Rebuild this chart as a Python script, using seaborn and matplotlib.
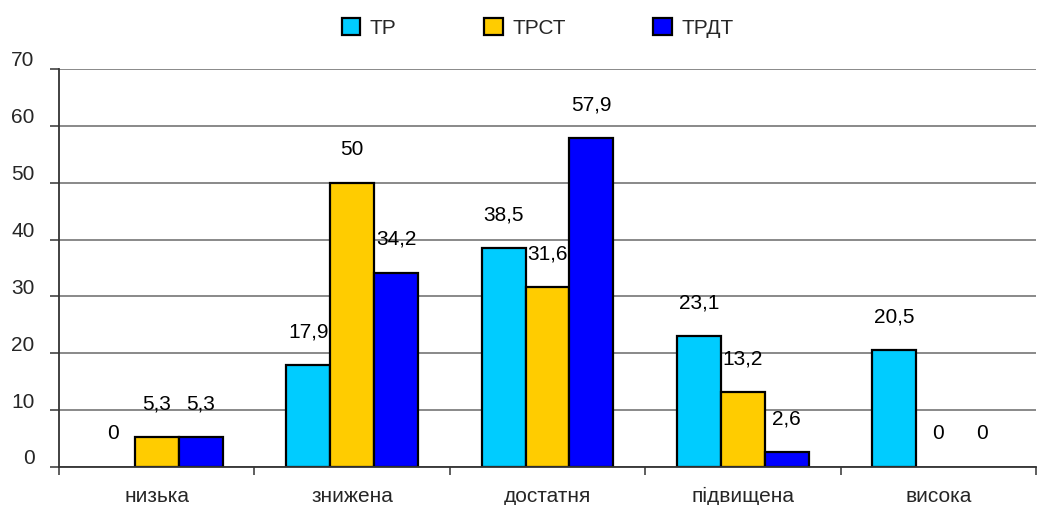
import matplotlib
matplotlib.use("Agg")
import matplotlib.pyplot as plt
import matplotlib.transforms as mtransforms
from matplotlib.patches import Patch
from matplotlib.ticker import FixedLocator
import seaborn as sns
import pandas as pd

categories = ["низька", "знижена", "достатня", "підвищена", "висока"]
series_names = ["ТР", "ТРСТ", "ТРДТ"]
tr_values = [0, 17.9, 38.5, 23.1, 20.5]
trst_values = [5.3, 50, 31.6, 13.2, 0]
trdt_values = [5.3, 34.2, 57.9, 2.6, 0]
colors = ["#00CCFF", "#FFCC00", "#0000FF"]
y_ticks = [0, 10, 20, 30, 40, 50, 60, 70]

rows = []
for name, vals in zip(series_names, [tr_values, trst_values, trdt_values]):
    for cat, v in zip(categories, vals):
        rows.append({"category": cat, "series": name, "value": v})
df = pd.DataFrame(rows)

sns.set_theme(style="white")
plt.rcParams["font.family"] = ["Liberation Sans", "DejaVu Sans"]

FS = 15

fig = plt.figure(figsize=(10.38, 5.05), dpi=100)
ax = fig.add_axes([59 / 1038, 1 - 467 / 505, (1036 - 59) / 1038, (467 - 69) / 505])

palette = dict(zip(series_names, colors))
sns.barplot(data=df, x="category", y="value", hue="series", order=categories,
            hue_order=series_names, palette=palette, width=0.675, gap=0,
            edgecolor="black", linewidth=1.6, saturation=1, legend=False,
            errorbar=None, ax=ax)

# zero-height bars are not drawn with an outline
for cont in ax.containers:
    for bar in cont:
        if bar.get_height() == 0:
            bar.set_linewidth(0)

ax.set_xlim(-0.5, len(categories) - 0.5)
ax.set_ylim(0, 70)
ax.set_yticks(y_ticks)
ax.set_xlabel("")
ax.set_ylabel("")

# gridlines
ax.yaxis.grid(True, color="#808080", linewidth=1.3)
ax.xaxis.grid(False)
ax.set_axisbelow(True)

for s in ["top", "right"]:
    ax.spines[s].set_visible(False)
for s in ["left", "bottom"]:
    ax.spines[s].set_visible(True)
    ax.spines[s].set_color("#333333")
    ax.spines[s].set_linewidth(1.3)

ax.tick_params(axis="y", which="major", direction="out", length=6.5, width=1.1,
               color="#333333", labelsize=FS, pad=11, left=True)
ax.tick_params(axis="x", which="major", length=0, labelsize=FS, pad=14.5)
ax.xaxis.set_minor_locator(FixedLocator([i - 0.5 for i in range(len(categories) + 1)]))
ax.tick_params(axis="x", which="minor", direction="out", length=6, width=1.1,
               color="#333333", bottom=True)

shift = mtransforms.ScaledTranslation(0, 10 / 100, fig.dpi_scale_trans)
for lab in ax.get_yticklabels():
    lab.set_transform(lab.get_transform() + shift)

# value labels
for cont, vals in zip(ax.containers, [tr_values, trst_values, trdt_values]):
    labels = [f"{v:g}".replace(".", ",") for v in vals]
    ax.bar_label(cont, labels=labels, padding=17, fontsize=FS, color="black")

handles = [Patch(facecolor=c, edgecolor="black", linewidth=1.6) for c in colors]
fig.legend(handles, series_names, loc="center", bbox_to_anchor=(0.518, 0.945),
           ncol=3, frameon=False, fontsize=FS, handlelength=0.9, handleheight=0.9,
           handletextpad=0.45, columnspacing=4.2)

fig.savefig("out.png", dpi=100)
